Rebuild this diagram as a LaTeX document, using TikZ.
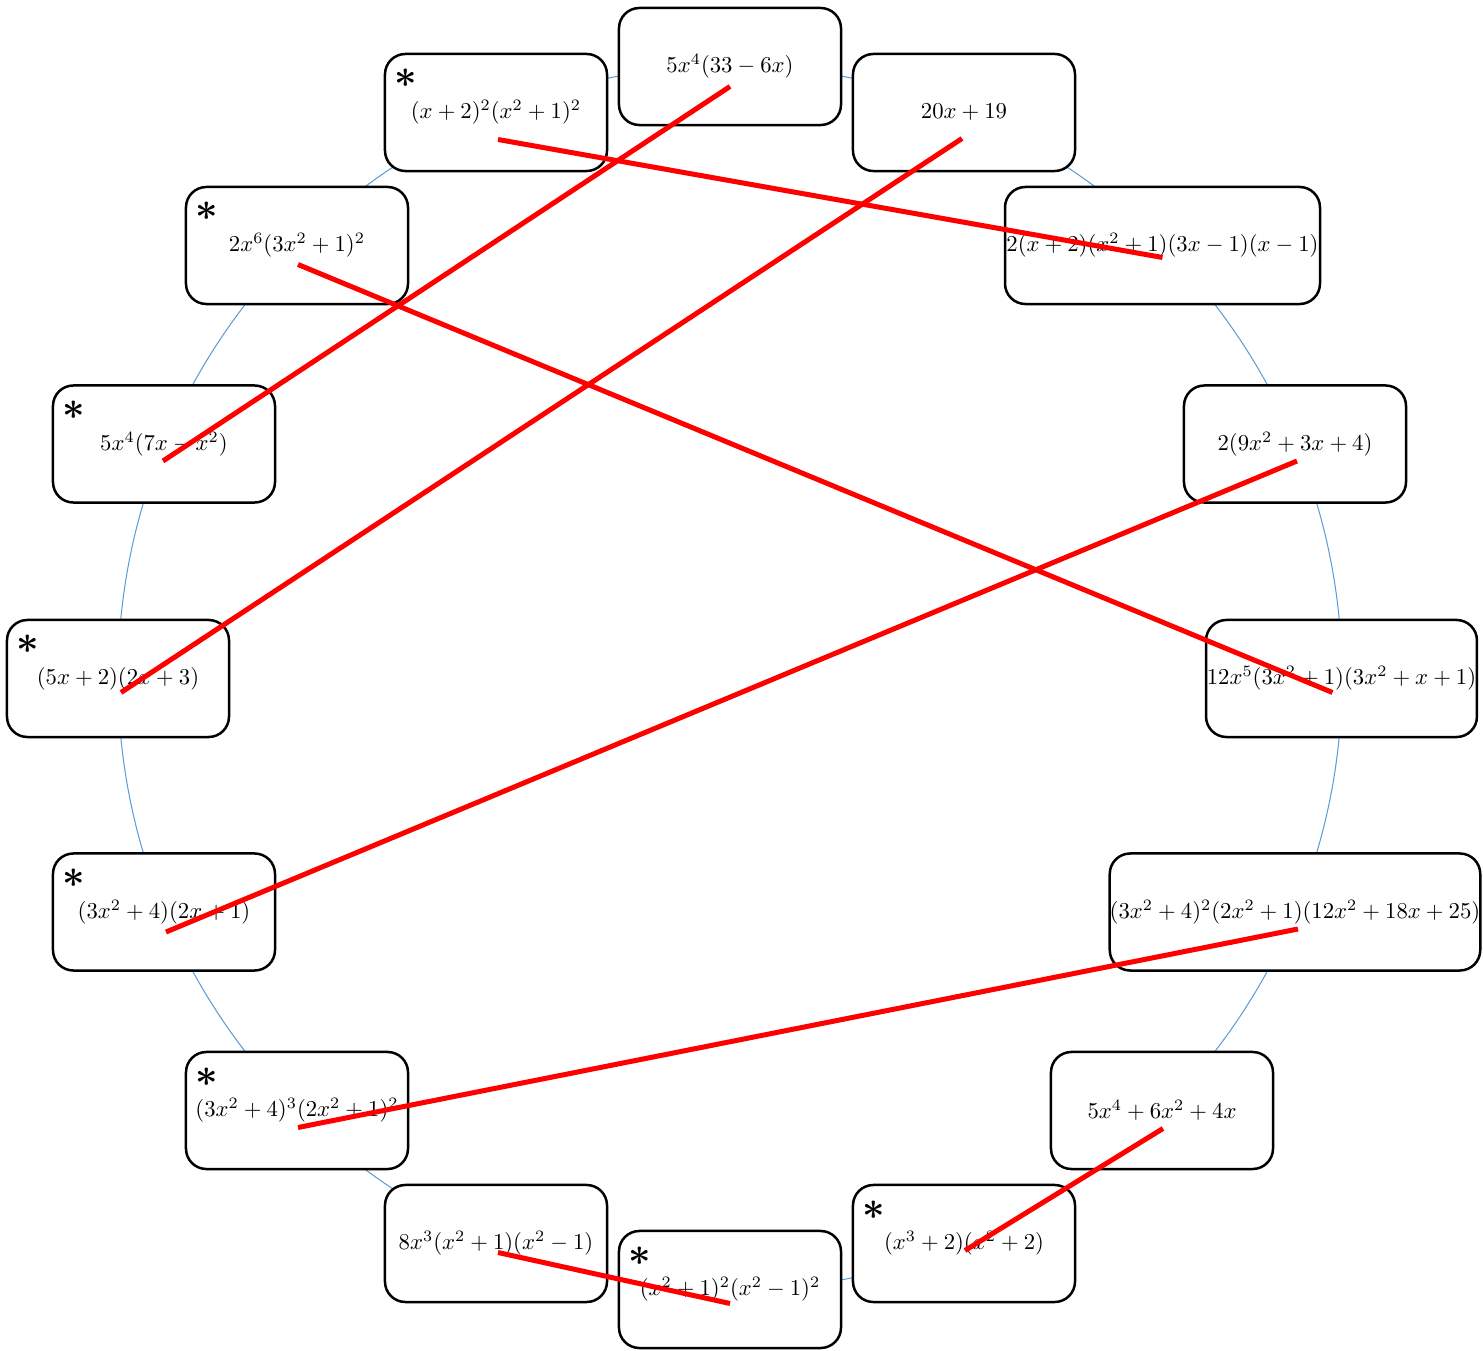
\documentclass[tikz,border=0pt]{standalone}
\usetikzlibrary{calc}
\definecolor{ringblue}{RGB}{91,155,213}
\begin{document}
\begin{tikzpicture}[x=0.44pt,y=-0.44pt,
  box/.style={draw=black,line width=1.1pt,rounded corners=9pt,fill=white,
    minimum width=97.7pt,minimum height=51.5pt,inner sep=0pt,align=center},
  ring/.style={draw=ringblue,line width=0.45pt},
  link/.style={draw=red,line width=2.2pt},
  star/.style={font=\LARGE\boldmath,inner sep=0pt}]
\useasboundingbox (0,0) rectangle (1483,1351);
\draw[ring] (730,678) circle[radius=612];
% boxes
\node[box] (b1) at (730,66.5) {$5x^4(33-6x)$};
\node[box] (b2) at (496,112.5) {$(x+2)^2(x^2+1)^2$};
\node[box] (b3) at (964,112.5) {$20x+19$};
\node[box] (b4) at (297,245.5) {$2x^6(3x^2+1)^2$};
\node[box,minimum width=138.6pt] (b5) at (1162.5,245.5) {$2(x+2)(x^2+1)(3x-1)(x-1)$};
\node[box] (b6) at (164,444) {$5x^4(7x-x^2)$};
\node[box] (b7) at (1295,444) {$2(9x^2+3x+4)$};
\node[box] (b8) at (118,678.5) {$(5x+2)(2x+3)$};
\node[box,minimum width=119.2pt] (b9) at (1341.5,678.5) {$12x^5(3x^2+1)(3x^2+x+1)$};
\node[box] (b10) at (164,912) {$(3x^2+4)(2x+1)$};
\node[box,minimum width=162pt] (b11) at (1295,912) {$(3x^2+4)^2(2x^2+1)(12x^2+18x+25)$};
\node[box] (b12) at (297,1110.5) {$(3x^2+4)^3(2x^2+1)^2$};
\node[box] (b13) at (1162,1110.5) {$5x^4+6x^2+4x$};
\node[box] (b14) at (496,1243.5) {$8x^3(x^2+1)(x^2-1)$};
\node[box] (b15) at (964,1243.5) {$(x^3+2)(x^2+2)$};
\node[box] (b16) at (730,1289.5) {$(x^2+1)^2(x^2-1)^2$};
% stars
\foreach \b in {b2,b4,b6,b8,b10,b12,b15,b16}
  \node[star] (s\b) at ($(\b.north west)+(22,26)$) {$\ast$};
% red connectors
\draw[link] ($(b1.center)+(0,20)$) -- ($(b6.center)+(-1,17)$);
\draw[link] ($(b2.center)+(2,27)$) -- ($(b5.center)+(0,12)$);
\draw[link] ($(b3.center)+(-2,26)$) -- ($(b8.center)+(3,14)$);
\draw[link] ($(b4.center)+(1,19)$) -- ($(b9.center)+(-9,14)$);
\draw[link] ($(b7.center)+(2,17)$) -- ($(b10.center)+(2,20)$);
\draw[link] ($(b11.center)+(3,17)$) -- ($(b12.center)+(1,17)$);
\draw[link] ($(b13.center)+(1,18)$) -- ($(b15.center)+(1,7)$);
\draw[link] ($(b14.center)+(2,9)$) -- ($(b16.center)+(0,14)$);
\end{tikzpicture}
\end{document}
